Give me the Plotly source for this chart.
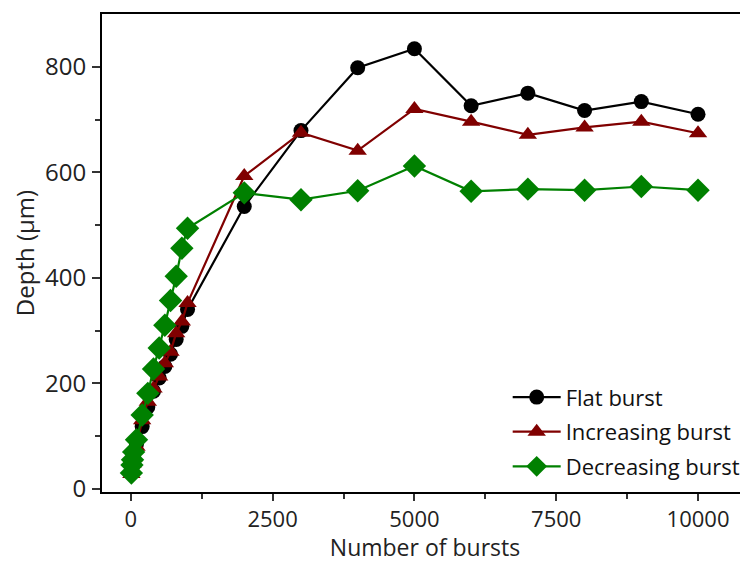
import plotly.graph_objects as go

bursts = [10, 20, 30, 50, 100, 200, 300, 400, 500, 600, 700, 800, 900, 1000,
          2000, 3000, 4000, 5000, 6000, 7000, 8000, 9000, 10000]

flat_depth = [30, 40, 50, 62, 85, 118, 155, 185, 210, 232, 255, 283, 308, 340,
              535, 679, 798, 834, 726, 750, 717, 734, 710]
increasing_depth = [28, 38, 48, 60, 80, 130, 165, 190, 213, 238, 260, 295, 317, 352,
                    593, 675, 641, 720, 696, 671, 685, 696, 674]
decreasing_depth = [30, 45, 55, 70, 93, 140, 181, 227, 267, 310, 357, 403, 456, 494,
                    561, 548, 565, 612, 564, 568, 566, 573, 566]

series_names = ["Flat burst", "Increasing burst", "Decreasing burst"]
x_ticks = [0, 2500, 5000, 7500, 10000]
y_ticks = [0, 200, 400, 600, 800]

FONT = "Open Sans"

fig = go.Figure()
fig.add_trace(go.Scatter(x=bursts, y=flat_depth, name=series_names[0], mode="lines+markers",
                         legendgroup="a",
                         line=dict(color="black", width=2.2),
                         marker=dict(symbol="circle", size=15, color="black")))
fig.add_trace(go.Scatter(x=bursts, y=increasing_depth, name=series_names[1], mode="lines+markers",
                         legendgroup="b",
                         line=dict(color="#800000", width=2.2),
                         marker=dict(symbol="triangle-up", size=16, color="#800000")))
fig.add_trace(go.Scatter(x=bursts, y=decreasing_depth, name=series_names[2], mode="lines+markers",
                         legendgroup="c",
                         line=dict(color="#008000", width=2.2),
                         marker=dict(symbol="diamond", size=18, color="#008000")))

# page body has an 8px margin, so the figure is drawn 8px in from the top-left
fig.update_layout(
    width=740, height=555,
    margin=dict(l=94, r=0, t=6, b=71, autoexpand=False),
    paper_bgcolor="white", plot_bgcolor="white",
    font=dict(family=FONT, size=24, color="#222"),
    showlegend=True,
    legend=dict(x=0.628, y=0.242, xanchor="left", yanchor="top",
                traceorder="grouped", tracegroupgap=3, itemwidth=48,
                bgcolor="rgba(0,0,0,0)", font=dict(size=22, color="#111")),
)
fig.update_xaxes(range=[-508, 10881], tickmode="array", tickvals=x_ticks,
                 ticktext=[str(v) for v in x_ticks],
                 showgrid=False, zeroline=False, showline=True, linecolor="black", linewidth=2,
                 mirror=True, ticks="outside", ticklen=7, tickwidth=2, tickcolor="#333",
                 tickfont=dict(size=22),
                 minor=dict(tickvals=[1250, 3750, 6250, 8750], ticks="outside", ticklen=5,
                            tickwidth=2, tickcolor="#333"),
                 title=dict(text="Number of bursts", font=dict(size=23, color="#222"), standoff=4))
fig.update_yaxes(range=[-6, 900], tickmode="array", tickvals=y_ticks,
                 ticktext=[str(v) for v in y_ticks],
                 showgrid=False, zeroline=False, showline=True, linecolor="black", linewidth=2,
                 ticks="outside", ticklen=8, tickwidth=2, tickcolor="#333",
                 ticklabelstandoff=1, tickfont=dict(size=24),
                 minor=dict(tickvals=[100, 300, 500, 700], ticks="outside", ticklen=5,
                            tickwidth=2, tickcolor="#333"),
                 title=dict(text="Depth (µm)", font=dict(size=24, color="#222"), standoff=7))

fig.write_html("out.html")
